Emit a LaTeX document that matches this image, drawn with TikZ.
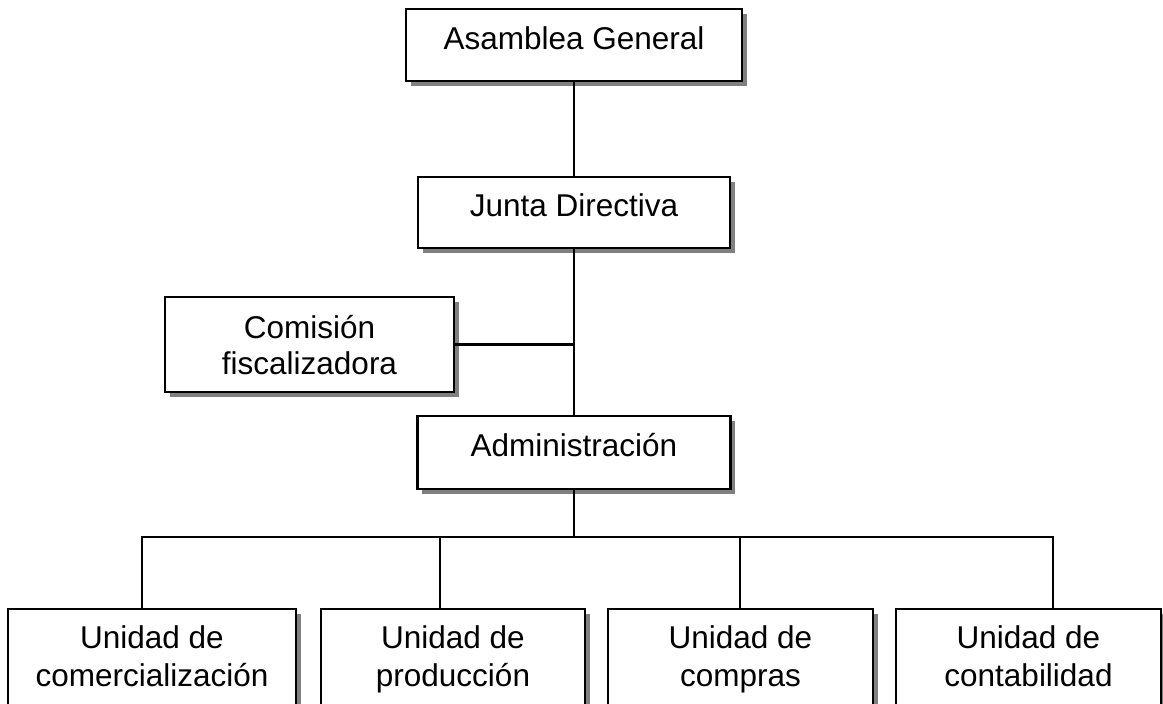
\documentclass[tikz,border=0pt]{standalone}
\usepackage{fontspec}
\setmainfont{Liberation Sans}
\usetikzlibrary{shadows}
\definecolor{shadowgray}{RGB}{128,128,128}
\begin{document}
\begin{tikzpicture}[x=1pt,y=-1pt,
  orgbox/.style={draw=black, fill=white, line width=2.2pt, inner sep=0pt,
    drop shadow={shadow xshift=4.5pt, shadow yshift=-4.5pt, fill=shadowgray, opacity=1}},
  lbl/.style={anchor=base, inner sep=0pt, font=\fontsize{31.5}{36}\selectfont},
  conn/.style={line width=2.2pt, line join=miter}]
\useasboundingbox (0,0) rectangle (1163,704);
% boxes
\node[orgbox, minimum width=336pt, minimum height=72pt] (ag) at (574,45) {};
\node[orgbox, minimum width=312pt, minimum height=71pt] (jd) at (574,212.5) {};
\node[orgbox, minimum width=289pt, minimum height=95pt] (cf) at (309.5,344.5) {};
\node[orgbox, minimum width=313pt, minimum height=73pt] (ad) at (574,452.5) {};
\node[orgbox, minimum width=288pt, minimum height=103pt] (u1) at (152,660.5) {};
\node[orgbox, minimum width=264pt, minimum height=103pt] (u2) at (453,660.5) {};
\node[orgbox, minimum width=265pt, minimum height=103pt] (u3) at (740.5,660.5) {};
\node[orgbox, minimum width=265pt, minimum height=103pt] (u4) at (1028.5,660.5) {};
% labels
\node[lbl] (tag) at (574,49.5) {Asamblea General};
\node[lbl] (tjd) at (574,216.7) {Junta Directiva};
\node[lbl] (tcf1) at (309.5,338.3) {Comisión};
\node[lbl] (tcf2) at (309.5,374.3) {fiscalizadora};
\node[lbl] (tad) at (574,456.7) {Administración};
\node[lbl] (tu1a) at (152,648.5) {Unidad de};
\node[lbl] (tu1b) at (152,686.5) {comercialización};
\node[lbl] (tu2a) at (453,648.5) {Unidad de};
\node[lbl] (tu2b) at (453,686.5) {producción};
\node[lbl] (tu3a) at (740.5,648.5) {Unidad de};
\node[lbl] (tu3b) at (740.5,686.5) {compras};
\node[lbl] (tu4a) at (1028.5,648.5) {Unidad de};
\node[lbl] (tu4b) at (1028.5,686.5) {contabilidad};
% connectors
\draw[conn] (ag.south) -- (jd.north);
\draw[conn] (jd.south) -- (ad.north);
\coordinate (cj) at (574,344.5);
\draw[conn] (cf.east) -- (cj);
\coordinate (bus) at (574,537);
\coordinate (b1) at (142,537);
\coordinate (b2) at (440,537);
\coordinate (b3) at (740,537);
\coordinate (b4) at (1053,537);
\draw[conn] (ad.south) -- (bus);
\draw[conn] (b1 |- u1.north) -- (b1) -- (b4) -- (b4 |- u4.north);
\draw[conn] (b2) -- (b2 |- u2.north);
\draw[conn] (b3) -- (b3 |- u3.north);
\end{tikzpicture}
\end{document}
